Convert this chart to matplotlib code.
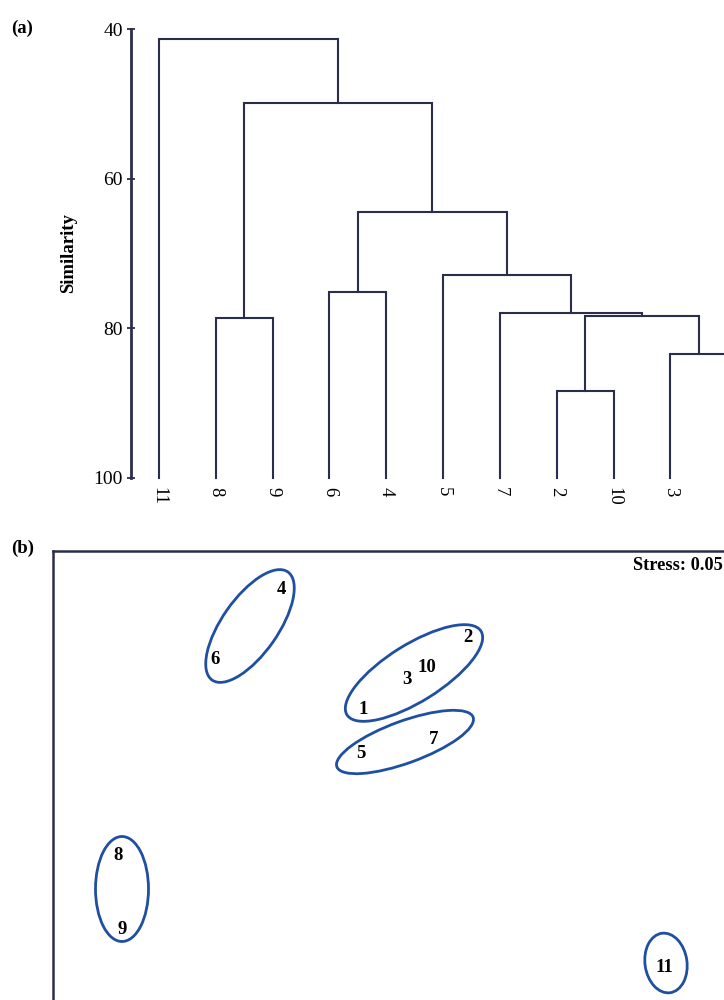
import matplotlib
matplotlib.use("Agg")
import matplotlib.pyplot as plt
from matplotlib.patches import Ellipse

plt.rcParams['font.family'] = ['Liberation Serif', 'DejaVu Serif']

# ---- (a) dendrogram data ----
leaf_order = ['11', '8', '9', '6', '4', '5', '7', '2', '10', '3', '1']
# merges in order of construction: n1, n2, ... (similarity level)
merge_left = ['2', '3', '8', 'n1', '7', '6', '5', 'n6', 'n3', '11']
merge_right = ['10', '1', '9', 'n2', 'n4', '4', 'n5', 'n7', 'n8', 'n9']
merge_level = [88.4, 83.5, 78.6, 78.3, 77.9, 75.2, 72.9, 64.4, 49.9, 41.3]
sim_ticks = [40, 60, 80, 100]

# ---- (b) NMDS data ----
site_labels = ['1', '2', '3', '4', '5', '6', '7', '8', '9', '10', '11']
nmds_x = [-0.40, 0.65, 0.04, -1.22, -0.42, -1.88, 0.31, -2.85, -2.81, 0.24, 2.61]
nmds_y = [0.80, 1.53, 1.10, 2.01, 0.36, 1.31, 0.51, -0.65, -1.40, 1.22, -1.77]
# group ellipses: centre x, centre y, width, height, angle
ell_cx = [-1.53, 0.11, 0.02, -2.81, 2.63]
ell_cy = [1.64, 1.17, 0.48, -0.99, -1.73]
ell_w = [1.32, 1.58, 1.45, 0.53, 0.42]
ell_h = [0.56, 0.57, 0.42, 1.05, 0.60]
ell_ang = [55, 32, 20, 0, 8]
stress = 0.05

line_col = '#2b2e4a'
ell_col = '#1f4fa0'

fig = plt.figure(figsize=(7.24, 10), dpi=100)

# ---------------- (a) ----------------
ax1 = fig.add_axes([0.1809, 0.5223, 0.902, 0.4484])
pos = {name: i for i, name in enumerate(leaf_order)}
level = {name: 100 for name in leaf_order}
for k, (l, r, h) in enumerate(zip(merge_left, merge_right, merge_level)):
    xl, xr = pos[l], pos[r]
    ax1.plot([xl, xl, xr, xr], [level[l], h, h, level[r]],
             color=line_col, lw=1.5, solid_joinstyle='miter', clip_on=False)
    node = 'n%d' % (k + 1)
    pos[node] = (xl + xr) / 2
    level[node] = h

ax1.set_ylim(100, 40)
ax1.set_xlim(-0.493, 11.0)
ax1.set_yticks(sim_ticks)
ax1.set_yticklabels([str(t) for t in sim_ticks], fontsize=14)
ax1.set_xticks(range(len(leaf_order)))
ax1.set_xticklabels(leaf_order, rotation=270, fontsize=13.5, va='top')
ax1.tick_params(axis='x', length=0, pad=7)
ax1.tick_params(axis='y', direction='inout', length=6, width=1.3,
                color=line_col, pad=3)
for s in ['top', 'right', 'bottom']:
    ax1.spines[s].set_visible(False)
ax1.spines['left'].set_linewidth(2)
ax1.spines['left'].set_color(line_col)
ax1.set_ylabel('Similarity', fontsize=13.5, fontweight='bold', labelpad=12)
fig.text(0.016, 0.972, '(a)', fontsize=13.5, fontweight='bold', va='center')

# ---------------- (b) ----------------
ax2 = fig.add_axes([0.0732, -0.04, 0.9765, 0.489])
ax2.set_xlim(-3.5, 3.57)
ax2.set_ylim(-2.5, 2.39)
for cx, cy, w, h, a in zip(ell_cx, ell_cy, ell_w, ell_h, ell_ang):
    ax2.add_patch(Ellipse((cx, cy), w, h, angle=a, fill=False,
                          edgecolor=ell_col, lw=2))
for lab, x, y in zip(site_labels, nmds_x, nmds_y):
    ax2.text(x, y, lab, fontsize=13.5, fontweight='bold', ha='center', va='center')
ax2.text(0.948, 0.971, 'Stress: %.2f' % stress, transform=ax2.transAxes,
         fontsize=13.2, fontweight='bold', ha='right', va='center')
ax2.set_xticks([])
ax2.set_yticks([])
for s in ax2.spines.values():
    s.set_linewidth(1.8)
    s.set_color(line_col)
fig.text(0.016, 0.452, '(b)', fontsize=13.5, fontweight='bold', va='center')

fig.savefig('out.png', dpi=100)
